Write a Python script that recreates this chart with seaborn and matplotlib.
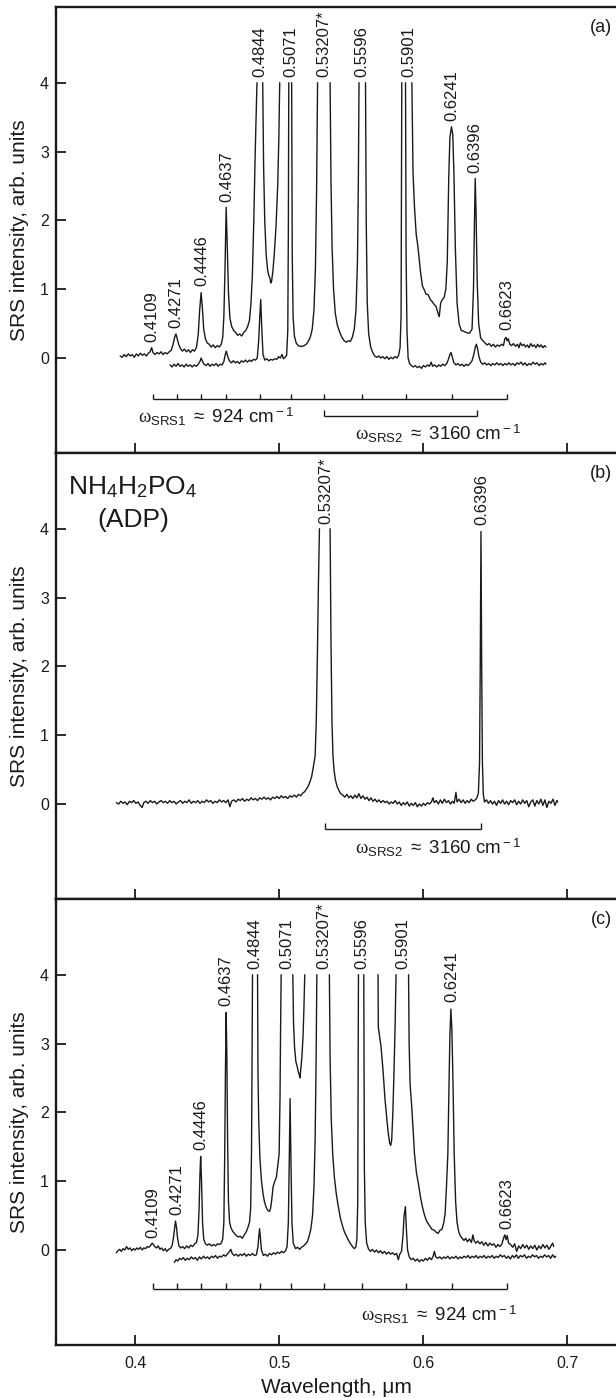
import numpy as np
import pandas as pd
import matplotlib
matplotlib.use("Agg")
import matplotlib.pyplot as plt
import seaborn as sns

nan = np.nan

# ---------------- data ----------------
# panel (a): upper spectrum (x = wavelength um, y = intensity); nan = clipped at 4
a_upper = [
(0.3896,0.03),(0.3910,0.01),(0.3924,0.05),(0.3938,0.02),(0.3952,0.06),(0.3966,0.03),(0.3980,0.05),(0.3994,0.01),
(0.4008,0.06),(0.4022,0.03),(0.4036,0.07),(0.4050,0.04),(0.4064,0.06),(0.4078,0.03),(0.4092,0.07),(0.4104,0.09),
(0.4114,0.15),(0.4124,0.08),(0.4138,0.05),(0.4152,0.08),(0.4166,0.06),(0.4180,0.09),(0.4194,0.05),(0.4208,0.08),
(0.4222,0.06),(0.4236,0.09),(0.4250,0.11),(0.4262,0.19),(0.4274,0.30),(0.4283,0.35),(0.4292,0.28),(0.4302,0.20),
(0.4314,0.14),(0.4328,0.10),(0.4342,0.13),(0.4356,0.09),(0.4370,0.12),(0.4384,0.08),(0.4398,0.12),(0.4412,0.10),
(0.4426,0.16),(0.4438,0.34),(0.4448,0.70),(0.4458,0.95),(0.4467,0.72),(0.4476,0.42),(0.4488,0.28),(0.4500,0.22),
(0.4514,0.20),(0.4528,0.16),(0.4542,0.19),(0.4556,0.15),(0.4570,0.18),(0.4584,0.16),(0.4598,0.20),(0.4608,0.30),
(0.4616,0.60),(0.4624,1.30),(0.4632,2.19),(0.4640,1.60),(0.4648,0.95),(0.4658,0.58),(0.4670,0.46),(0.4684,0.40),
(0.4698,0.37),(0.4712,0.33),(0.4726,0.35),(0.4740,0.32),(0.4754,0.37),(0.4768,0.40),(0.4782,0.46),(0.4794,0.55),
(0.4804,0.78),(0.4814,1.20),(0.4824,2.00),(0.4834,3.00),(0.4846,4.00),(nan,nan),
(0.4886,4.00),(0.4892,2.80),(0.4900,2.00),(0.4910,1.50),(0.4920,1.28),(0.4928,1.20),(0.4936,1.16),(0.4942,1.09),
(0.4948,1.12),(0.4956,1.25),(0.4966,1.50),(0.4978,1.90),(0.4990,2.50),(0.4998,3.20),(0.5004,4.00),(nan,nan),
(0.5922,4.00),(0.5930,2.70),(0.5940,2.20),(0.5952,1.80),(0.5962,1.65),(0.5970,1.50),(0.5982,1.25),(0.5995,1.05),
(0.6008,0.99),(0.6020,0.93),(0.6035,0.92),(0.6050,0.85),(0.6063,0.82),(0.6076,0.78),(0.6090,0.75),(0.6102,0.66),
(0.6112,0.60),(0.6122,0.80),(0.6134,0.85),(0.6146,0.88),(0.6158,1.00),(0.6168,1.40),(0.6178,2.60),(0.6186,3.20),
(0.6197,3.36),(0.6206,3.25),(0.6214,2.70),(0.6224,1.60),(0.6236,0.80),(0.6250,0.50),(0.6265,0.40),(0.6281,0.39),
(0.6300,0.37),(0.6322,0.36),(0.6340,0.42),(0.6350,1.00),(0.6357,2.00),(0.6362,2.61),(0.6368,2.10),(0.6376,1.10),
(0.6386,0.50),(0.6400,0.29),(0.6420,0.24),(0.6444,0.19),(0.6460,0.21),(0.6474,0.17),(0.6488,0.20),(0.6502,0.16),
(0.6516,0.19),(0.6530,0.17),(0.6544,0.20),(0.6558,0.18),(0.6568,0.28),(0.6576,0.30),(0.6584,0.25),(0.6592,0.28),
(0.6602,0.20),(0.6614,0.18),(0.6628,0.21),(0.6642,0.17),(0.6656,0.20),(0.6666,0.15),(0.6676,0.22),(0.6688,0.18),
(0.6700,0.20),(0.6712,0.16),(0.6724,0.19),(0.6736,0.15),(0.6748,0.21),(0.6760,0.17),(0.6772,0.19),(0.6784,0.15),
(0.6796,0.20),(0.6808,0.16),(0.6820,0.19),(0.6832,0.15),(0.6844,0.18),(0.6853,0.16)]

# panel (a): lower spectrum
a_lower = [
(0.4243,-0.10),(0.4256,-0.13),(0.4270,-0.09),(0.4284,-0.12),(0.4298,-0.08),(0.4312,-0.12),(0.4326,-0.10),(0.4340,-0.13),
(0.4354,-0.09),(0.4368,-0.12),(0.4382,-0.10),(0.4396,-0.13),(0.4410,-0.10),(0.4424,-0.12),(0.4438,-0.09),(0.4450,-0.05),
(0.4458,0.00),(0.4466,-0.04),(0.4478,-0.09),(0.4492,-0.11),(0.4506,-0.08),(0.4520,-0.12),(0.4534,-0.09),(0.4548,-0.11),
(0.4562,-0.08),(0.4576,-0.12),(0.4590,-0.09),(0.4604,-0.10),(0.4616,-0.05),(0.4626,0.05),(0.4633,0.10),(0.4642,0.03),
(0.4654,-0.04),(0.4668,-0.07),(0.4682,-0.04),(0.4696,-0.07),(0.4710,-0.05),(0.4724,-0.08),(0.4738,-0.04),(0.4752,-0.06),
(0.4766,-0.03),(0.4780,-0.06),(0.4794,-0.03),(0.4808,-0.05),(0.4822,-0.02),(0.4836,-0.03),(0.4848,0.00),(0.4858,0.25),
(0.4866,0.62),(0.4872,0.85),(0.4879,0.45),(0.4888,0.05),(0.4900,-0.03),(0.4914,-0.01),(0.4928,-0.04),(0.4942,-0.02),
(0.4956,-0.03),(0.4970,-0.01),(0.4984,-0.02),(0.4996,0.02),(0.5008,0.00),(0.5020,0.05),(0.5030,-0.01),(0.5042,0.01),
(0.5052,0.04),(0.5060,0.40),(0.5064,1.80),(0.5067,4.00),(nan,nan),
(0.5087,4.00),(0.5091,1.50),(0.5097,0.60),(0.5106,0.32),(0.5118,0.22),(0.5132,0.18),(0.5146,0.17),(0.5160,0.17),
(0.5174,0.18),(0.5188,0.20),(0.5202,0.24),(0.5216,0.30),(0.5230,0.42),(0.5242,0.70),(0.5252,1.30),(0.5260,2.40),
(0.5267,4.00),(nan,nan),
(0.5354,4.00),(0.5360,2.60),(0.5368,1.60),(0.5378,1.00),(0.5390,0.65),(0.5404,0.48),(0.5420,0.38),(0.5436,0.30),
(0.5452,0.25),(0.5466,0.23),(0.5480,0.25),(0.5494,0.24),(0.5508,0.30),(0.5522,0.42),(0.5534,0.70),(0.5544,1.40),
(0.5550,2.50),(0.5555,4.00),(nan,nan),
(0.5600,4.00),(0.5605,2.00),(0.5612,0.80),(0.5622,0.35),(0.5636,0.16),(0.5650,0.08),(0.5664,0.03),(0.5678,0.01),
(0.5692,0.03),(0.5706,0.00),(0.5720,0.02),(0.5734,-0.01),(0.5748,0.02),(0.5762,-0.02),(0.5776,0.01),(0.5790,-0.01),
(0.5804,0.02),(0.5818,0.00),(0.5830,0.04),(0.5840,0.15),(0.5847,0.60),(0.5852,4.00),(nan,nan),
(0.5878,4.00),(0.5882,1.50),(0.5888,0.40),(0.5896,0.00),(0.5906,-0.08),(0.5918,-0.11),(0.5932,-0.13),(0.5946,-0.11),
(0.5960,-0.14),(0.5974,-0.12),(0.5988,-0.15),(0.6002,-0.11),(0.6016,-0.13),(0.6030,-0.10),(0.6044,-0.12),(0.6056,-0.06),
(0.6066,-0.12),(0.6080,-0.10),(0.6094,-0.13),(0.6108,-0.10),(0.6122,-0.12),(0.6136,-0.09),(0.6150,-0.11),(0.6164,-0.08),
(0.6176,-0.02),(0.6186,0.05),(0.6194,0.08),(0.6202,0.02),(0.6214,-0.07),(0.6228,-0.10),(0.6242,-0.08),(0.6256,-0.11),
(0.6270,-0.09),(0.6284,-0.12),(0.6298,-0.09),(0.6312,-0.11),(0.6326,-0.08),(0.6340,-0.04),(0.6352,0.05),(0.6362,0.15),
(0.6370,0.20),(0.6378,0.14),(0.6388,0.02),(0.6400,-0.06),(0.6414,-0.09),(0.6428,-0.07),(0.6442,-0.10),(0.6456,-0.08),
(0.6470,-0.11),(0.6484,-0.08),(0.6498,-0.10),(0.6512,-0.07),(0.6526,-0.10),(0.6540,-0.08),(0.6554,-0.11),(0.6568,-0.08),
(0.6582,-0.10),(0.6596,-0.07),(0.6610,-0.10),(0.6624,-0.08),(0.6638,-0.11),(0.6652,-0.07),(0.6666,-0.09),(0.6680,-0.06),
(0.6694,-0.10),(0.6708,-0.07),(0.6722,-0.11),(0.6736,-0.08),(0.6750,-0.10),(0.6764,-0.06),(0.6778,-0.09),(0.6792,-0.07),
(0.6806,-0.11),(0.6820,-0.08),(0.6834,-0.10),(0.6846,-0.07),(0.6853,-0.09)]

# panel (b): ADP spectrum
b_spec = [
(0.3869,0.02),(0.3885,0.00),(0.3900,0.04),(0.3915,0.01),(0.3930,0.03),(0.3945,-0.01),(0.3960,0.04),(0.3975,0.02),
(0.3990,0.05),(0.4005,0.01),(0.4020,0.03),(0.4035,-0.02),(0.4048,-0.05),(0.4060,0.02),(0.4075,0.04),(0.4090,0.01),
(0.4105,0.05),(0.4120,0.02),(0.4135,0.04),(0.4150,0.00),(0.4165,0.03),(0.4180,0.05),(0.4195,0.02),(0.4210,0.04),
(0.4225,0.01),(0.4240,0.05),(0.4255,0.02),(0.4270,0.04),(0.4285,0.00),(0.4300,0.03),(0.4315,0.05),(0.4330,0.01),
(0.4345,0.04),(0.4360,0.02),(0.4375,0.06),(0.4390,0.01),(0.4405,0.04),(0.4420,0.02),(0.4435,0.05),(0.4450,0.01),
(0.4465,0.04),(0.4480,0.02),(0.4495,0.06),(0.4510,0.03),(0.4525,0.05),(0.4540,0.01),(0.4555,0.04),(0.4570,0.02),
(0.4585,0.06),(0.4600,0.03),(0.4615,0.05),(0.4630,0.02),(0.4645,0.06),(0.4658,-0.04),(0.4670,0.04),(0.4685,0.06),
(0.4700,0.03),(0.4715,0.07),(0.4730,0.05),(0.4745,0.08),(0.4760,0.04),(0.4775,0.07),(0.4790,0.05),(0.4805,0.09),
(0.4820,0.06),(0.4835,0.08),(0.4850,0.05),(0.4865,0.09),(0.4880,0.07),(0.4895,0.10),(0.4910,0.07),(0.4925,0.09),
(0.4940,0.06),(0.4955,0.10),(0.4970,0.08),(0.4985,0.11),(0.5000,0.08),(0.5015,0.12),(0.5030,0.09),(0.5045,0.11),
(0.5060,0.08),(0.5075,0.12),(0.5090,0.10),(0.5105,0.13),(0.5120,0.10),(0.5135,0.14),(0.5150,0.12),(0.5165,0.16),
(0.5178,0.18),(0.5190,0.22),(0.5202,0.26),(0.5214,0.32),(0.5226,0.40),(0.5236,0.52),(0.5244,0.62),(0.5250,0.70),
(0.5258,1.20),(0.5266,2.20),(0.5273,3.20),(0.5280,4.00),(nan,nan),
(0.5354,4.00),(0.5360,2.40),(0.5367,1.20),(0.5374,0.70),(0.5381,0.50),(0.5390,0.36),(0.5402,0.26),(0.5414,0.20),
(0.5428,0.15),(0.5442,0.13),(0.5456,0.10),(0.5470,0.14),(0.5484,0.09),(0.5498,0.12),(0.5512,0.08),(0.5526,0.13),
(0.5540,0.09),(0.5554,0.15),(0.5568,0.08),(0.5582,0.12),(0.5596,0.07),(0.5610,0.10),(0.5624,0.05),(0.5638,0.09),
(0.5652,0.04),(0.5666,0.07),(0.5680,0.03),(0.5694,0.06),(0.5708,0.02),(0.5722,0.05),(0.5736,0.02),(0.5750,0.04),
(0.5764,0.00),(0.5778,0.03),(0.5792,0.01),(0.5806,0.05),(0.5820,0.00),(0.5834,0.03),(0.5848,-0.02),(0.5862,0.02),
(0.5876,-0.01),(0.5890,0.03),(0.5904,-0.03),(0.5918,0.01),(0.5932,-0.02),(0.5946,0.02),(0.5960,-0.04),(0.5974,0.00),
(0.5988,-0.03),(0.6002,0.01),(0.6016,-0.02),(0.6030,0.02),(0.6044,0.00),(0.6058,0.03),(0.6068,0.09),(0.6078,0.02),
(0.6092,0.05),(0.6106,0.00),(0.6120,0.06),(0.6134,0.01),(0.6148,0.07),(0.6162,0.02),(0.6176,0.05),(0.6190,0.00),
(0.6204,0.04),(0.6216,0.01),(0.6228,0.17),(0.6236,0.03),(0.6250,0.07),(0.6264,0.02),(0.6278,0.06),(0.6292,0.01),
(0.6306,0.05),(0.6320,0.02),(0.6334,0.07),(0.6348,0.04),(0.6362,0.06),(0.6374,0.09),(0.6384,0.16),(0.6392,0.60),
(0.6397,2.00),(0.6402,3.96),(0.6407,2.00),(0.6412,0.60),(0.6418,0.15),(0.6426,0.03),(0.6440,0.06),(0.6454,0.01),
(0.6468,0.05),(0.6482,0.00),(0.6496,0.04),(0.6510,-0.02),(0.6524,0.05),(0.6538,0.01),(0.6552,0.06),(0.6566,0.00),
(0.6580,0.04),(0.6594,-0.01),(0.6608,0.05),(0.6622,0.02),(0.6636,0.06),(0.6650,-0.01),(0.6664,0.04),(0.6678,0.00),
(0.6692,0.06),(0.6706,0.01),(0.6720,0.05),(0.6734,-0.04),(0.6748,0.03),(0.6762,0.06),(0.6776,-0.03),(0.6790,0.05),
(0.6804,0.00),(0.6818,0.07),(0.6832,-0.02),(0.6846,0.06),(0.6860,-0.05),(0.6874,0.04),(0.6888,0.01),(0.6902,0.07),
(0.6916,-0.02),(0.6930,0.05),(0.6935,0.03)]

# panel (c): upper spectrum
c_upper = [
(0.3869,-0.04),(0.3880,-0.01),(0.3892,0.01),(0.3904,-0.02),(0.3916,0.02),(0.3928,0.00),(0.3940,0.05),(0.3952,0.01),
(0.3964,0.03),(0.3976,-0.01),(0.3988,0.02),(0.4000,0.00),(0.4012,0.03),(0.4024,0.01),(0.4036,0.04),(0.4048,0.00),
(0.4060,0.03),(0.4072,0.02),(0.4084,0.05),(0.4096,0.04),(0.4108,0.07),(0.4118,0.10),(0.4126,0.08),(0.4136,0.05),
(0.4148,0.03),(0.4160,0.06),(0.4172,0.01),(0.4184,0.03),(0.4196,-0.01),(0.4208,0.02),(0.4220,-0.02),(0.4232,0.01),
(0.4244,0.02),(0.4256,0.06),(0.4266,0.18),(0.4274,0.32),(0.4280,0.42),(0.4287,0.33),(0.4294,0.18),(0.4304,0.06),
(0.4316,0.03),(0.4330,0.05),(0.4344,0.02),(0.4358,0.06),(0.4372,0.03),(0.4386,0.07),(0.4400,0.05),(0.4414,0.09),
(0.4426,0.11),(0.4436,0.22),(0.4444,0.60),(0.4450,1.10),(0.4455,1.36),(0.4461,1.00),(0.4468,0.40),(0.4476,0.16),
(0.4488,0.09),(0.4502,0.07),(0.4516,0.09),(0.4530,0.06),(0.4544,0.08),(0.4558,0.06),(0.4572,0.09),(0.4586,0.08),
(0.4598,0.10),(0.4608,0.16),(0.4616,0.40),(0.4622,1.40),(0.4627,2.60),(0.4632,3.45),(0.4637,2.80),(0.4642,1.60),
(0.4648,0.70),(0.4656,0.40),(0.4666,0.32),(0.4678,0.27),(0.4690,0.24),(0.4702,0.21),(0.4716,0.19),(0.4730,0.20),
(0.4744,0.17),(0.4758,0.22),(0.4770,0.26),(0.4782,0.32),(0.4794,0.40),(0.4802,0.60),(0.4808,1.40),(0.4812,2.80),
(0.4815,4.00),(nan,nan),
(0.4850,4.00),(0.4853,2.60),(0.4858,1.90),(0.4866,1.35),(0.4877,1.01),(0.4888,0.82),(0.4898,0.70),(0.4910,0.62),
(0.4920,0.58),(0.4932,0.56),(0.4940,0.60),(0.4948,0.72),(0.4958,0.92),(0.4970,1.00),(0.4981,1.06),(0.4992,1.25),
(0.5000,1.40),(0.5006,2.20),(0.5010,3.20),(0.5014,4.00),(nan,nan),
(0.5095,4.00),(0.5100,3.30),(0.5107,2.95),(0.5116,2.74),(0.5126,2.66),(0.5134,2.58),(0.5140,2.55),(0.5144,2.50),
(0.5150,2.62),(0.5158,2.80),(0.5166,3.10),(0.5172,3.50),(0.5178,4.00),(nan,nan),
(0.5687,4.00),(0.5689,3.24),(0.5698,3.10),(0.5708,2.95),(0.5722,2.60),(0.5736,2.17),(0.5742,2.05),(0.5749,1.88),
(0.5758,1.70),(0.5768,1.55),(0.5775,1.52),(0.5782,1.60),(0.5790,2.00),(0.5798,2.60),(0.5806,3.30),(0.5812,4.00),(nan,nan),
(0.5899,4.00),(0.5903,3.00),(0.5910,2.40),(0.5921,2.08),(0.5932,1.70),(0.5940,1.40),(0.5954,1.12),(0.5967,0.97),
(0.5981,0.78),(0.5995,0.63),(0.6008,0.52),(0.6022,0.43),(0.6036,0.38),(0.6049,0.34),(0.6062,0.30),(0.6076,0.29),
(0.6090,0.26),(0.6104,0.24),(0.6118,0.29),(0.6131,0.30),(0.6144,0.40),(0.6153,0.53),(0.6162,0.90),(0.6172,1.40),
(0.6180,2.40),(0.6186,3.10),(0.6193,3.50),(0.6200,3.20),(0.6208,2.40),(0.6216,1.40),(0.6226,0.70),(0.6236,0.40),
(0.6248,0.26),(0.6260,0.20),(0.6272,0.17),(0.6284,0.14),(0.6296,0.17),(0.6308,0.12),(0.6322,0.16),(0.6336,0.11),
(0.6346,0.22),(0.6354,0.14),(0.6366,0.10),(0.6380,0.13),(0.6394,0.09),(0.6408,0.12),(0.6422,0.07),(0.6436,0.11),
(0.6450,0.06),(0.6464,0.10),(0.6478,0.07),(0.6492,0.09),(0.6506,0.04),(0.6520,0.08),(0.6534,0.05),(0.6548,0.09),
(0.6560,0.18),(0.6568,0.22),(0.6576,0.15),(0.6584,0.21),(0.6594,0.10),(0.6608,0.08),(0.6622,0.04),(0.6636,0.09),
(0.6650,-0.02),(0.6664,0.06),(0.6678,0.02),(0.6692,0.08),(0.6706,0.03),(0.6720,0.07),(0.6734,0.01),(0.6748,0.06),
(0.6762,0.02),(0.6776,0.07),(0.6790,0.00),(0.6804,0.06),(0.6818,0.02),(0.6832,0.08),(0.6846,0.03),(0.6860,0.07),
(0.6874,0.01),(0.6888,0.06),(0.6900,0.10),(0.6907,0.05)]

# panel (c): lower spectrum
c_lower = [
(0.4272,-0.18),(0.4284,-0.14),(0.4296,-0.16),(0.4308,-0.12),(0.4320,-0.14),(0.4334,-0.11),(0.4348,-0.15),(0.4362,-0.12),
(0.4376,-0.14),(0.4390,-0.10),(0.4404,-0.13),(0.4418,-0.11),(0.4432,-0.15),(0.4446,-0.10),(0.4460,-0.13),(0.4474,-0.09),
(0.4488,-0.12),(0.4502,-0.10),(0.4516,-0.13),(0.4530,-0.09),(0.4544,-0.11),(0.4558,-0.08),(0.4572,-0.12),(0.4586,-0.09),
(0.4600,-0.10),(0.4614,-0.07),(0.4628,-0.09),(0.4640,-0.06),(0.4652,-0.03),(0.4664,0.01),(0.4674,-0.05),(0.4688,-0.08),
(0.4702,-0.06),(0.4716,-0.09),(0.4730,-0.06),(0.4744,-0.08),(0.4758,-0.05),(0.4772,-0.09),(0.4786,-0.06),(0.4800,-0.08),
(0.4814,-0.05),(0.4828,-0.08),(0.4842,-0.07),(0.4853,0.05),(0.4859,0.20),(0.4864,0.31),(0.4870,0.18),(0.4877,0.00),
(0.4891,-0.08),(0.4905,-0.06),(0.4919,-0.09),(0.4933,-0.05),(0.4947,-0.07),(0.4961,-0.04),(0.4975,-0.06),(0.4989,-0.03),
(0.5003,-0.05),(0.5017,-0.02),(0.5031,-0.04),(0.5045,-0.01),(0.5055,0.05),(0.5064,0.40),(0.5071,1.40),(0.5076,2.20),
(0.5082,1.30),(0.5089,0.40),(0.5098,0.10),(0.5114,0.02),(0.5128,0.04),(0.5142,0.01),(0.5156,0.04),(0.5170,0.06),
(0.5184,0.09),(0.5196,0.12),(0.5208,0.20),(0.5220,0.30),(0.5232,0.50),(0.5242,0.92),(0.5250,1.60),(0.5256,2.60),
(0.5262,4.00),(nan,nan),
(0.5349,4.00),(0.5354,2.80),(0.5362,1.90),(0.5372,1.40),(0.5384,1.05),(0.5398,0.80),(0.5412,0.62),(0.5426,0.46),
(0.5440,0.35),(0.5454,0.26),(0.5468,0.20),(0.5482,0.14),(0.5496,0.09),(0.5510,0.05),(0.5522,0.02),(0.5532,0.04),
(0.5540,0.15),(0.5546,0.70),(0.5551,4.00),(nan,nan),
(0.5588,4.00),(0.5592,1.20),(0.5598,0.40),(0.5608,0.10),(0.5620,0.02),(0.5634,-0.02),(0.5648,0.01),(0.5662,-0.03),
(0.5676,0.00),(0.5690,-0.04),(0.5704,-0.01),(0.5718,-0.05),(0.5732,-0.02),(0.5746,-0.06),(0.5760,-0.03),(0.5774,-0.06),
(0.5788,-0.04),(0.5802,-0.07),(0.5816,-0.05),(0.5828,-0.14),(0.5838,-0.06),(0.5850,-0.02),(0.5860,0.20),(0.5868,0.50),
(0.5877,0.63),(0.5884,0.30),(0.5892,0.00),(0.5904,-0.10),(0.5918,-0.14),(0.5932,-0.12),(0.5946,-0.16),(0.5960,-0.13),
(0.5974,-0.17),(0.5988,-0.14),(0.6002,-0.16),(0.6016,-0.12),(0.6030,-0.15),(0.6044,-0.11),(0.6058,-0.14),(0.6070,-0.09),
(0.6078,-0.02),(0.6088,-0.10),(0.6102,-0.12),(0.6116,-0.10),(0.6130,-0.13),(0.6144,-0.10),(0.6158,-0.12),(0.6172,-0.09),
(0.6186,-0.13),(0.6200,-0.10),(0.6214,-0.12),(0.6228,-0.09),(0.6242,-0.13),(0.6256,-0.10),(0.6270,-0.12),(0.6284,-0.09),
(0.6298,-0.11),(0.6312,-0.08),(0.6326,-0.12),(0.6340,-0.09),(0.6354,-0.11),(0.6368,-0.08),(0.6382,-0.12),(0.6396,-0.09),
(0.6410,-0.11),(0.6424,-0.08),(0.6438,-0.12),(0.6452,-0.09),(0.6466,-0.11),(0.6480,-0.08),(0.6494,-0.12),(0.6508,-0.09),
(0.6522,-0.11),(0.6536,-0.07),(0.6550,-0.10),(0.6564,-0.08),(0.6578,-0.12),(0.6592,-0.09),(0.6606,-0.13),(0.6620,-0.08),
(0.6634,-0.11),(0.6648,-0.07),(0.6662,-0.12),(0.6676,-0.08),(0.6690,-0.10),(0.6704,-0.07),(0.6718,-0.12),(0.6732,-0.09),
(0.6746,-0.11),(0.6760,-0.07),(0.6774,-0.10),(0.6788,-0.08),(0.6802,-0.12),(0.6816,-0.09),(0.6830,-0.11),(0.6844,-0.07),
(0.6858,-0.10),(0.6872,-0.08),(0.6886,-0.12),(0.6900,-0.07),(0.6914,-0.11),(0.6921,-0.09)]

# peak labels
a_lab_text = ['0.4109', '0.4271', '0.4446', '0.4637', '0.4844', '0.5071', '0.53207*', '0.5596', '0.5901', '0.6241', '0.6396', '0.6623']
a_lab_x = [0.4114, 0.4286, 0.4460, 0.4640, 0.4864, 0.5082, 0.5313, 0.5578, 0.5899, 0.6199, 0.6362, 0.6580]
a_lab_y = [0.24, 0.43, 1.05, 2.27, 4.08, 4.08, 4.08, 4.08, 4.08, 3.44, 2.69, 0.41]
b_lab_text = ['0.53207*', '0.6396']
b_lab_x = [0.5322, 0.6411]
b_lab_y = [4.07, 4.06]
c_lab_text = ['0.4109', '0.4271', '0.4446', '0.4637', '0.4844', '0.5071', '0.53207*', '0.5596', '0.5901', '0.6241', '0.6623']
c_lab_x = [0.4123, 0.4292, 0.4455, 0.4632, 0.4831, 0.5054, 0.5308, 0.5572, 0.5858, 0.6199, 0.6580]
c_lab_y = [0.18, 0.51, 1.45, 3.55, 4.08, 4.08, 4.08, 4.08, 4.08, 3.60, 0.31]

# Raman comb brackets
srs1_ticks = [0.4122, 0.4288, 0.4456, 0.4633, 0.4868, 0.5083, 0.5309, 0.5577, 0.5882, 0.6198, 0.6580]
srs2_a = [0.5309, 0.6376]
srs2_b = [0.5316, 0.6403]

xticks = [0.4, 0.5, 0.6, 0.7]
yticks = [0, 1, 2, 3, 4]

# ---------------- styling ----------------
sns.set_theme(style="white")
plt.rcParams['font.family'] = ['Liberation Sans', 'DejaVu Sans']
plt.rcParams['mathtext.fontset'] = 'custom'
plt.rcParams['mathtext.rm'] = 'Liberation Sans'
plt.rcParams['mathtext.sf'] = 'Liberation Sans'
plt.rcParams['mathtext.it'] = 'Liberation Serif'
plt.rcParams['mathtext.bf'] = 'Liberation Sans:bold'

INK = '#1a1a1a'
LAB_FS = 12


def to_df(points):
    arr = np.array(points, dtype=float)
    seg = np.cumsum(np.isnan(arr[:, 1]))
    m = ~np.isnan(arr[:, 1])
    return pd.DataFrame({'x': arr[m, 0], 'y': arr[m, 1], 'seg': seg[m]})


def draw(ax, points):
    sns.lineplot(data=to_df(points), x='x', y='y', units='seg', estimator=None,
                 sort=False, color=INK, lw=1.0, ax=ax, legend=False)


def labels(ax, texts, xs, ys):
    for t, x, y in zip(texts, xs, ys):
        ax.text(x, y, t, rotation=90, ha='center', va='bottom', fontsize=LAB_FS, color=INK)


def comb(ax, ticks, y, h):
    ax.hlines(y, ticks[0], ticks[-1], color=INK, lw=1.0)
    ax.vlines(ticks, y, y + h, color=INK, lw=1.0)


def omega(n, val):
    return r'$\omega_{\rm SRS%d}$ $\approx$ %s cm$^{\rm -1}$' % (n, val)


fig = plt.figure(figsize=(6.16, 13.98), dpi=100)
L, W, H = 56 / 616, 560 / 616, 446 / 1398
bottoms = [1 - 453 / 1398, 1 - 899 / 1398, 1 - 1345 / 1398]
axes = [fig.add_axes([L, b, W, H]) for b in bottoms]

for i, ax in enumerate(axes):
    ax.set_xlim(0.345, 0.734)
    ax.set_ylim(-1.38, 5.10)
    ax.set_xticks(xticks)
    ax.set_yticks(yticks)
    ax.set_yticklabels([str(v) for v in yticks])
    ax.spines['right'].set_visible(False)
    for s in ['left', 'bottom', 'top']:
        ax.spines[s].set_color(INK)
        ax.spines[s].set_linewidth(1.7)
    ax.tick_params(axis='both', direction='in', length=7, width=1.3, colors=INK,
                   labelsize=11.5, pad=5, left=True, bottom=True)
    ax.set_xlabel('')
    ax.set_ylabel('SRS intensity, arb. units', fontsize=15, color=INK)
    ax.yaxis.set_label_coords(-0.048, 0.5)
    if i < 2:
        ax.tick_params(labelbottom=False)
    ax.text(0.993, 0.955, '(%s)' % 'abc'[i], transform=ax.transAxes, ha='right',
            va='center', fontsize=13, color=INK)

# panel (a)
ax = axes[0]
draw(ax, a_upper)
draw(ax, a_lower)
labels(ax, a_lab_text, a_lab_x, a_lab_y)
comb(ax, srs1_ticks, -0.60, 0.08)
comb(ax, srs2_a, -0.84, 0.09)
ax.text(0.4564, -0.86, omega(1, '924'), ha='center', va='center', fontsize=13.5, color=INK)
ax.text(0.6103, -1.11, omega(2, '3160'), ha='center', va='center', fontsize=13.5, color=INK)

# panel (b)
ax = axes[1]
draw(ax, b_spec)
labels(ax, b_lab_text, b_lab_x, b_lab_y)
comb(ax, srs2_b, -0.36, 0.09)
ax.text(0.6103, -0.64, omega(2, '3160'), ha='center', va='center', fontsize=13.5, color=INK)
ax.text(0.3985, 4.61, r'NH$_4$H$_2$PO$_4$', ha='center', va='center', fontsize=19, color=INK)
ax.text(0.3985, 4.12, '(ADP)', ha='center', va='center', fontsize=19, color=INK)

# panel (c)
ax = axes[2]
draw(ax, c_upper)
draw(ax, c_lower)
labels(ax, c_lab_text, c_lab_x, c_lab_y)
comb(ax, srs1_ticks, -0.57, 0.09)
ax.text(0.611, -0.94, omega(1, '924'), ha='center', va='center', fontsize=13.5, color=INK)
ax.set_xticklabels(['0.4', '0.5', '0.6', '0.7'])
ax.tick_params(axis='x', pad=8)
ax.set_xlabel('Wavelength, \u03bcm', fontsize=15, color=INK, labelpad=5)

fig.savefig('out.png', dpi=100)
